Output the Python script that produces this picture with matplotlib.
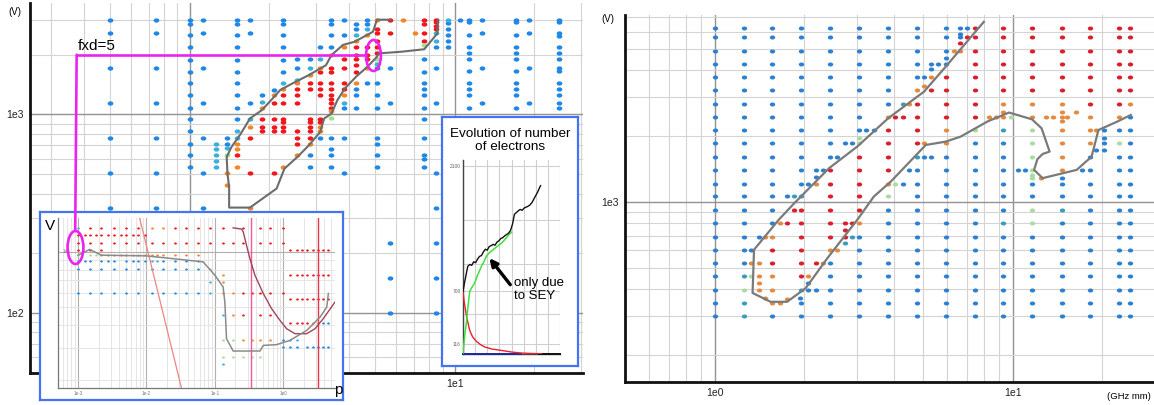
import matplotlib
matplotlib.use("Agg")
import matplotlib.pyplot as plt
from matplotlib.patches import ConnectionPatch
from matplotlib.path import Path
from matplotlib.transforms import Affine2D
from matplotlib.ticker import NullFormatter, FixedLocator, MultipleLocator

plt.rcParams['font.family'] = ['Liberation Sans', 'DejaVu Sans']

W, H = 1154, 405

# ---------------- left panel: adaptive grid of runs (x in GHz mm, V) ----------------
LEFT_COLUMNS = [
    (0.50, [3000, 2565, 1710, 1140, 763, 508, 338], "bbbbbbb"),
    (0.75, [3000, 2565, 1710, 1140, 763, 508, 338], "bbbbbbb"),
    (1.00, [3000, 2860, 2510, 2190, 1890, 1640, 1440, 1250, 1084, 948, 827, 714, 624, 545], "bbbbbbbbbbbbbb"),
    (1.12, [3000, 2565, 1710, 1140, 763, 508, 338], "bbbbbbb"),
    (1.26, [714, 668, 624, 580, 545], "ttttt"),
    (1.39, [763, 714, 680, 624, 508, 440], "bbtgoo"),
    (1.51, [3000, 2860, 2510, 2190, 1890, 1640, 1440, 1250, 1084, 948, 827, 763, 714, 668, 624, 545], "bbbbbbbbbbttooro"),
    (1.69, [3000, 2565, 1140, 948, 866, 763, 508, 338], "bbbtorro"),
    (1.88, [1250, 1160, 1084, 948, 866, 827], "btorrr"),
    (2.09, [1330, 1250, 1140, 948, 866, 827, 508], "borrrrr"),
    (2.26, [3000, 2860, 2510, 2190, 1890, 1640, 1440, 1350, 1250, 1140, 948, 920, 866, 827, 545], "bbbbbbtorrrrrro"),
    (2.55, [1910, 1710, 1500, 1440, 1350, 1250, 1140, 827, 763, 714, 624], "bbtorrrrrro"),
    (2.84, [1910, 1710, 1580, 1440, 1350, 948, 920, 866, 827, 763, 714, 624, 545], "btorrrrrrrobb"),
    (3.11, [2190, 1910, 1710, 1640, 1440, 1350, 1250, 948, 920, 866, 827, 763], "btorrrrrroob"),
    (3.43, [3000, 2860, 2510, 2190, 1990, 1710, 1640, 1440, 1350, 1250, 1190, 1140, 1084, 1040, 955, 763, 668, 624, 545], "bbbborrrrrrrrogbbbb"),
    (3.81, [3000, 2510, 2190, 1910, 1710, 1440, 1350, 1250, 1140, 1084, 763, 508], "bborrrrotbbb"),
    (4.25, [2860, 2700, 2510, 2350, 2190, 1990, 1910, 1770, 1640, 1440, 1350, 1250, 1084], "bbtorrrrrobbb"),
    (4.68, [3000, 2860, 2700, 2510, 2190, 1990, 1910, 1710, 1440], "bbtorrrob"),
    (5.09, [3000, 2700, 2565, 2350, 2190, 2030, 1910, 1800, 1710, 1440, 1250, 1084, 763, 714, 624, 545], "orrrrrgtbbbbbbbb"),
    (5.71, [3000, 2565, 1710, 1140, 225, 150, 100], "rrbbbbb"),
    (6.40, [3000], "o"),
    (7.08, [2565], "o"),
    (7.68, [3000, 2860, 2565, 2350, 2240, 1910, 1640, 1440, 1350, 1250, 1084, 948, 763, 624, 600, 545], "rrrrgbbbbbbbbbbb"),
    (8.48, [3000, 2920, 2800, 2700, 2565, 2350, 2190, 1710, 1140, 508, 338, 225, 150, 100], "rrrrttbbbbbbbb"),
    (9.44, [3000, 2880, 2700, 2510, 2350, 2190], "tbbbbb"),
    (10.5, [3000], "b"),
    (11.3, [3000, 2920, 2510, 2190, 2030, 1910, 1660, 1440, 1350, 1250, 1084], "bbbbbbbbbbb"),
    (12.7, [3000, 2565, 1710, 1140], "bbbb"),
    (17.0, [3000, 2920, 2510, 2190, 2030, 1910, 1660, 1440, 1350, 1250, 1084], "bbbbbbbbbbb"),
    (19.1, [3000, 2565, 1710, 1140], "bbbb"),
    (24.8, [3000, 2920, 2565, 2480, 2190, 2030, 1910, 1710, 1660, 1440, 1350, 1250, 1140, 1084], "bbbbbbbbbbbbbb"),
]

LEFT_LINE_X = [5.71, 5.09, 4.92, 4.54, 4.18, 3.79, 3.43, 3.27, 2.82, 2.51, 2.20, 2.03, 1.87,
               1.69, 1.56, 1.44, 1.38, 1.39, 1.41, 1.41, 1.69, 2.13, 2.28, 2.55, 2.82, 3.11,
               3.22, 3.43, 3.61, 3.85, 4.25, 4.69, 5.09, 5.18, 6.31, 7.68, 8.61, 8.67]
LEFT_LINE_V = [3000, 3000, 2610, 2460, 2320, 2240, 1990, 1770, 1580, 1460, 1330, 1180, 1050,
               955, 800, 687, 611, 504, 431, 340, 340, 424, 534, 611, 700, 817,
               955, 1010, 1180, 1350, 1550, 1740, 1950, 2030, 2070, 2130, 2560, 3000]

# ---------------- right panel: regular grid ----------------
RIGHT_X = [1.0, 1.25, 1.56, 1.95, 2.44, 3.05, 3.81, 4.77, 5.96, 7.45, 9.31, 11.6, 14.6, 18.2, 22.7, 24.8]
RIGHT_V = [6210, 5650, 4910, 4270, 3710, 3230, 2810, 2440, 2120, 1850, 1610, 1400,
           1210, 1060, 918, 798, 694, 603, 525, 456, 397, 345, 300]
RIGHT_GRID = [
    "bbbbbbbbbrrrrrrr",
    "bbbbbbbbbrrrrrrr",
    "bbbbbbbbbrrrrrrr",
    "bbbbbbbbbrrrrrrr",
    "bbbbbbbbrrrrrrrr",
    "bbbbbbborrrrrrrr",
    "bbbbbbbrrrooorro",
    "bbbbbborrrooooob",
    "bbbbbbrrogtgoobb",
    "bbbbbgrrobbgoogb",
    "bbbbbrrtbbbgobbb",
    "bbbbrrrbbbbgobbb",
    "bbbbrrobbbbbbbbb",
    "bbbtrrgbbbbbbbbb",
    "bbbrrrbbbbbgtbbb",
    "bbbrrobbbbtgbbbb",
    "bborrbbbbbbbbbbb",
    "bbrrobbbbbbbbbbb",
    "bbrrbbbbbbbbbbbb",
    "btorbbbbbbbbbbbb",
    "bgotbbbbbbbbbbbb",
    "btobbbbbbbbbbbbb",
    "btbbbbbbbbbbbbbb",
]
# refined points near the boundaries
RIGHT_EXTRA = [
    (6.65, 6210, 'b'), (7.0, 6210, 'b'), (6.65, 5880, 'b'), (6.65, 5650, 'b'), (7.0, 5650, 'r'),
    (6.65, 5300, 'r'), (6.35, 4910, 'o'), (6.65, 4910, 'o'), (5.96, 4560, 'b'), (5.33, 4270, 'b'),
    (5.63, 4270, 'b'), (5.33, 4070, 'b'), (5.04, 3710, 'b'), (5.33, 3710, 'o'), (5.04, 3400, 'o'),
    (5.33, 3230, 'r'), (4.28, 2810, 't'), (4.49, 2810, 'o'), (4.02, 2440, 'r'), (4.28, 2440, 'r'),
    (3.21, 2120, 'b'), (3.42, 2120, 'b'), (2.73, 1850, 'b'), (2.88, 1850, 'b'), (3.05, 1950, 'g'),
    (2.58, 1610, 'b'), (2.18, 1400, 'b'), (2.31, 1400, 'b'), (2.18, 1305, 'b'), (2.06, 1210, 'b'),
    (2.18, 1210, 'o'), (1.75, 1060, 'b'), (1.85, 1060, 't'), (4.02, 1210, 'g'), (4.28, 1210, 'b'),
    (4.49, 1400, 'b'), (5.04, 1610, 'b'), (5.33, 1610, 'b'), (5.04, 1850, 'o'), (8.33, 2440, 'o'),
    (8.77, 2440, 'o'), (9.85, 2440, 'g'), (9.31, 2580, 'o'), (12.95, 2440, 'o'), (13.7, 2440, 'o'),
    (14.6, 2580, 'o'), (15.2, 2440, 'o'), (16.3, 2580, 'o'), (14.6, 2330, 'o'), (19.1, 2120, 'o'),
    (20.3, 2120, 'b'), (20.3, 1960, 'b'), (20.3, 1850, 'b'), (19.1, 1720, 'b'), (20.3, 1720, 'b'),
    (10.4, 1400, 'b'), (11.0, 1400, 'b'), (11.6, 1330, 'g'), (11.6, 1280, 'g'), (12.4, 1280, 'o'),
    (14.6, 1290, 'b'), (17.1, 1400, 'b'), (1.85, 918, 'r'), (1.66, 798, 'o'), (1.75, 798, 'r'),
    (2.73, 798, 'r'), (2.88, 798, 'r'), (2.73, 745, 'r'), (1.41, 694, 'b'), (1.48, 694, 'o'),
    (2.73, 694, 'r'), (2.88, 694, 't'), (2.73, 645, 't'), (1.32, 603, 'b'), (2.58, 603, 'o'),
    (1.32, 525, 'o'), (1.41, 525, 'o'), (2.18, 525, 'r'), (2.31, 525, 'o'), (1.32, 456, 'g'),
    (1.41, 456, 'o'), (2.06, 456, 'o'), (1.41, 425, 'o'), (1.41, 397, 'o'), (2.06, 397, 'b'),
    (2.18, 397, 'b'), (2.06, 425, 'b'), (1.48, 365, 'o'), (1.66, 345, 'o'), (1.75, 360, 'o'),
    (1.94, 365, 'b'),
]
RIGHT_LINE_X = [8.0, 5.96, 5.04, 3.82, 3.01, 2.42, 1.85, 1.64, 1.355, 1.34, 1.54, 1.75, 2.02,
                2.39, 3.01, 3.42, 3.90, 5.11, 5.96, 6.69, 8.23, 9.72, 11.6, 12.5, 13.3, 12.6,
                12.1, 11.8, 12.6, 16.4, 18.4, 19.4, 22.4, 24.9]
RIGHT_LINE_V = [6650, 4150, 3190, 2410, 1790, 1425, 986, 828, 604, 383, 349, 349, 403,
                553, 828, 1057, 1238, 1820, 1885, 1987, 2330, 2560, 2385, 2170, 1697, 1655,
                1566, 1400, 1283, 1400, 1610, 2130, 2325, 2495]

# ---------------- inset: V versus p ----------------
INSET_X = [1.0e-3, 1.25e-3, 1.5e-3, 1.86e-3, 2.2e-3, 2.75e-3, 3.4e-3, 4.2e-3, 5.1e-3, 6.4e-3,
           7.5e-3, 9.4e-3, 1.19e-2, 1.41e-2, 1.75e-2, 2.6e-2, 3.85e-2, 5.7e-2, 8.5e-2, 0.132,
           0.185, 0.26, 0.345, 0.456, 0.64, 1.0, 1.25, 1.57, 1.86, 2.2, 2.75, 3.25, 3.85, 4.56]
INSET_ROWS = [
    (1342, "t.r.r.r.r.r.o.orrrrr.r.rrr"),
    (1234, "rrrrrrrrrrrr"),
    (1120, "r.r.r.r.r.r.r.rrrrrrrr.rrr"),
    (1022, "r.r.r" + "." * 21 + "rrrrrrrr"),
    (959, "g.gg" + "o" * 14),
    (890, "bbb.bbb.bbbbttbbbb"),
    (811, "b.b.b.b.b.b.b.bbbbg"),
    (746, "." * 19 + "o" + "." * 6 + "rrrrrrrr"),
    (681, "." * 18 + "to"),
    (600, "b.b.b.b.b.b.b.bbbbtoorrrrr"),
    (551, "." * 26 + "rrrrrrrr"),
    (451, "." * 19 + "tor.rr"),
    (409, "." * 26 + "rrrroobb"),
    (329, "." * 19 + "ggoooobtt"),
    (303, "." * 25 + "bbb.bbbbb"),
    (267, "." * 19 + "ggggg"),
    (245, "." * 19 + "t"),
]
INSET_GRAY_X = [1.0e-3, 1.48e-3, 2.19e-3, 1.0e-2, 6.75e-2, 0.1, 0.132, 0.14, 0.148, 0.185,
                0.456, 0.51, 0.8, 1.25, 2.2, 3.45, 4.32, 4.56]
INSET_GRAY_V = [959, 1031, 959, 951, 882, 746, 644, 533, 336, 288, 288, 309, 312, 329, 373,
                441, 500, 593]
INSET_ROSE_X = [0.185, 0.246, 0.26, 0.29, 0.325, 0.385, 0.51, 0.675, 0.895, 1.12, 1.48, 2.2,
                2.91, 3.85, 5.71]
INSET_ROSE_V = [1352, 1331, 1286, 1088, 920, 746, 593, 490, 423, 381, 358, 358, 381, 433, 533]
INSET_DIAG_X = [7.98e-3, 3.25e-2]
INSET_DIAG_V = [1522, 181]
INSET_VLINES = [(0.336, '#f5559a'), (3.25, '#e8354a')]

# ---------------- inset: evolution of number of electrons ----------------
EV_BLACK_T = [0, 2, 4, 5, 7, 9, 11, 13, 15, 17, 19, 21, 23, 25, 27, 29, 31, 33, 35, 37, 39, 41,
              43, 45, 47, 49, 51, 53, 55, 57, 59, 61, 63, 65, 67, 69, 71, 73, 75, 77, 79, 80]
EV_BLACK_N = [700, 820, 930, 980, 1000, 990, 1030, 1020, 1060, 1090, 1100, 1140, 1170, 1160,
              1200, 1210, 1225, 1215, 1250, 1265, 1290, 1300, 1320, 1335, 1350, 1380, 1450,
              1560, 1580, 1600, 1615, 1605, 1630, 1640, 1650, 1665, 1690, 1730, 1770, 1810,
              1860, 1880]
EV_GREEN_T = [0, 1, 2, 3.5, 5, 7, 9, 12, 15, 19, 22, 24, 27, 31, 35, 40, 44, 48, 50]
EV_GREEN_N = [0, 120, 230, 346, 520, 700, 740, 793, 880, 979, 1040, 1090, 1130, 1165, 1200,
              1240, 1290, 1340, 1360]
EV_RED_T = [0, 1, 2.5, 4, 5.2, 6.5, 8, 10, 13.8, 18, 22.4, 30, 39.7, 50, 60, 70, 81]
EV_RED_N = [700, 600, 495, 400, 346, 280, 235, 190, 141, 105, 78, 55, 40, 22, 11, 6, 3]
EV_TICKS = [116, 700, 2100]

MAIN_COLORS = {'b': '#1f88e6', 't': '#3cb0dc', 'r': '#f0161c', 'o': '#f2862a', 'g': '#9ee38c'}
RIGHT_COLORS = {'b': '#2c80d2', 't': '#3a9cba', 'r': '#d91f2c', 'o': '#e48a3e', 'g': '#a8dca2'}
MAGENTA = '#ee22ee'
BOX_BLUE = '#4474f0'

dot = Path.unit_circle().transformed(Affine2D().scale(1.0, 0.75))
ring = Path.unit_circle().transformed(Affine2D().scale(0.48, 1.0))


def px_axes(fig, x0, y0, x1, y1, z):
    ax = fig.add_axes([x0 / W, 1 - y1 / H, (x1 - x0) / W, (y1 - y0) / H])
    ax.set_zorder(z)
    return ax


def log_frame(ax, xlim, ylim, major='#939393', minor='#d4d4d4', lw=1.0):
    ax.set_xscale('log')
    ax.set_yscale('log')
    ax.set_xlim(*xlim)
    ax.set_ylim(*ylim)
    ax.grid(which='major', color=major, lw=lw)
    ax.grid(which='minor', color=minor, lw=lw * 0.8)
    ax.set_axisbelow(True)
    ax.xaxis.set_minor_formatter(NullFormatter())
    ax.yaxis.set_minor_formatter(NullFormatter())
    ax.tick_params(which='both', length=0)
    for s in ('top', 'right'):
        ax.spines[s].set_visible(False)


def draw_dots(ax, xs, vs, codes, palette, size):
    for code, color in palette.items():
        px = [x for x, c in zip(xs, codes) if c == code]
        pv = [v for v, c in zip(vs, codes) if c == code]
        if px:
            ax.scatter(px, pv, s=size, marker=dot, color=color, lw=0, zorder=2)


def boxed(ax):
    ax.set_xticks([])
    ax.set_yticks([])
    for s in ax.spines.values():
        s.set_color(BOX_BLUE)
        s.set_linewidth(1.6)


fig = plt.figure(figsize=(W / 100, H / 100), dpi=100, facecolor='white')

# ---- left main panel ----
ax = px_axes(fig, 30, 3, 583, 373, 1)
log_frame(ax, (0.25, 30.5), (50, 3640))
for s in ('left', 'bottom'):
    ax.spines[s].set_linewidth(2)
    ax.spines[s].set_color('#111111')
ax.set_xticks([1, 10], ['1e0', '1e1'])
ax.set_yticks([100, 1000], ['1e2', '1e3'])
ax.tick_params(which='major', labelsize=7.5, pad=4.5, colors='#222222')
xs, vs, cs = [], [], ''
for x, col_v, col_c in LEFT_COLUMNS:
    xs += [x] * len(col_v)
    vs += col_v
    cs += col_c
draw_dots(ax, xs, vs, cs, MAIN_COLORS, 17)
ax.plot(LEFT_LINE_X, LEFT_LINE_V, color='#6c6c6c', lw=1.5, zorder=3)
ax.text(-0.027, 0.975, '(V)', transform=ax.transAxes, ha='center', va='center', fontsize=7)
ax.plot([0.375, 4.62], [2000, 2000], color=MAGENTA, lw=1.9, zorder=5, solid_capstyle='butt')
ax.plot([4.92], [1990], ls='none', marker=ring, ms=22.3, mfc='none', mec=MAGENTA, mew=1.9, zorder=6)
ax.text(0.38, 2110, 'fxd=5', fontsize=11, ha='left', va='baseline', zorder=6)

# ---- right panel ----
ar = px_axes(fig, 625, 15, 1154, 382, 1)
log_frame(ar, (0.5, 29.8), (150, 7150))
for s in ('left', 'bottom'):
    ar.spines[s].set_linewidth(2)
    ar.spines[s].set_color('#111111')
ar.set_xticks([1, 10], ['1e0', '1e1'])
ar.set_yticks([1000], ['1e3'])
ar.tick_params(which='major', labelsize=7.5, pad=4.5, colors='#222222')
xs, vs, cs = [], [], ''
for v, row in zip(RIGHT_V, RIGHT_GRID):
    for x, c in zip(RIGHT_X, row):
        if c != '.':
            xs.append(x)
            vs.append(v)
            cs += c
for x, v, c in RIGHT_EXTRA:
    xs.append(x)
    vs.append(v)
    cs += c
draw_dots(ar, xs, vs, cs, RIGHT_COLORS, 15)
ar.plot(RIGHT_LINE_X, RIGHT_LINE_V, color='#7a7a7a', lw=1.6, zorder=3)
ar.text(-0.032, 0.99, '(V)', transform=ar.transAxes, ha='center', va='center', fontsize=7)
ar.text(0.953, -0.04, '(GHz mm)', transform=ar.transAxes, ha='center', va='center', fontsize=6.8)

# ---- inset 1: V(p) ----
b1 = px_axes(fig, 40, 212, 343, 400, 3)
boxed(b1)
b1.text(0.033, 0.925, 'V', transform=b1.transAxes, ha='center', va='center', fontsize=11)
b1.text(0.984, 0.055, 'p', transform=b1.transAxes, ha='center', va='center', fontsize=11)
a1 = px_axes(fig, 58, 218, 335, 388, 4)
a1.patch.set_alpha(0)
log_frame(a1, (5.1e-4, 5.7), (181, 1530), major='#b0b0b0', minor='#e2e2e2', lw=0.8)
for s in ('left', 'bottom'):
    a1.spines[s].set_color('#777777')
    a1.spines[s].set_linewidth(0.9)
a1.set_xticks([1e-3, 1e-2, 1e-1, 1e0], ['1e-3', '1e-2', '1e-1', '1e0'])
a1.set_yticks([1000], [''])
a1.tick_params(which='major', labelsize=3.3, pad=2, colors='#777777')
a1.text(6.9e-4, 1000, '1e3', fontsize=3.3, color='#777777', ha='center', va='center')
xs, vs, cs = [], [], ''
for v, row in INSET_ROWS:
    for x, c in zip(INSET_X, row):
        if c != '.':
            xs.append(x)
            vs.append(v)
            cs += c
draw_dots(a1, xs, vs, cs, MAIN_COLORS, 4)
a1.plot(INSET_DIAG_X, INSET_DIAG_V, color='#ee8585', lw=0.9, zorder=3)
for x, c in INSET_VLINES:
    a1.axvline(x, color=c, lw=1.0, zorder=3)
a1.plot(INSET_ROSE_X, INSET_ROSE_V, color='#a24456', lw=1.0, zorder=3)
a1.plot(INSET_GRAY_X, INSET_GRAY_V, color='#8a8a8a', lw=1.1, zorder=4)
a1.plot([8.9e-4], [1065], ls='none', marker=ring, ms=23.8, mfc='none', mec=MAGENTA, mew=1.9,
        zorder=6, clip_on=False)
con = ConnectionPatch(xyA=(0.375, 2000), coordsA=ax.transData, xyB=(9.1e-4, 1311),
                      coordsB=a1.transData, color=MAGENTA, lw=1.9, zorder=10)
fig.add_artist(con)

# ---- inset 2: evolution of number of electrons ----
b2 = px_axes(fig, 442, 117, 578, 366, 3)
boxed(b2)
b2.text(0.5, 0.955, 'Evolution of number\nof electrons', transform=b2.transAxes,
        ha='center', va='top', fontsize=9.7, linespacing=1.1)
a2 = px_axes(fig, 463, 160, 560, 354, 4)
a2.patch.set_alpha(0)
a2.set_xlim(0, 100)
a2.set_ylim(0, 2167)
a2.xaxis.set_major_locator(MultipleLocator(12.5))
a2.set_xticklabels([])
a2.set_yticks(EV_TICKS, [str(t) for t in EV_TICKS])
a2.yaxis.set_minor_locator(FixedLocator([450, 1000, 1500]))
a2.grid(which='both', color='#d0d0d0', lw=0.8)
a2.set_axisbelow(True)
a2.tick_params(which='both', length=0, labelsize=3.5, pad=1.5, colors='#666666')
for s in ('top', 'right'):
    a2.spines[s].set_visible(False)
for s in ('left', 'bottom'):
    a2.spines[s].set_color('#444444')
    a2.spines[s].set_linewidth(1.0)
a2.plot([0, 60], [0, 0], color='#1a2a9a', lw=1.4, zorder=3, clip_on=False)
a2.plot([78, 100], [0, 0], color='#111111', lw=1.4, zorder=3, clip_on=False)
a2.plot(EV_RED_T, EV_RED_N, color='#e8202a', lw=1.0, zorder=4)
a2.plot(EV_GREEN_T, EV_GREEN_N, color='#3ee03a', lw=1.1, zorder=5)
a2.plot(EV_BLACK_T, EV_BLACK_N, color='#111111', lw=1.0, zorder=6)
a2.annotate('', xy=(25.5, 1095), xytext=(50.5, 750),
            arrowprops=dict(arrowstyle='-|>', color='black', lw=2.4, mutation_scale=11))
a2.text(53, 717, 'only due\nto SEY', fontsize=9.5, ha='left', va='center', linespacing=1.15)

fig.savefig('out.png', dpi=100)
